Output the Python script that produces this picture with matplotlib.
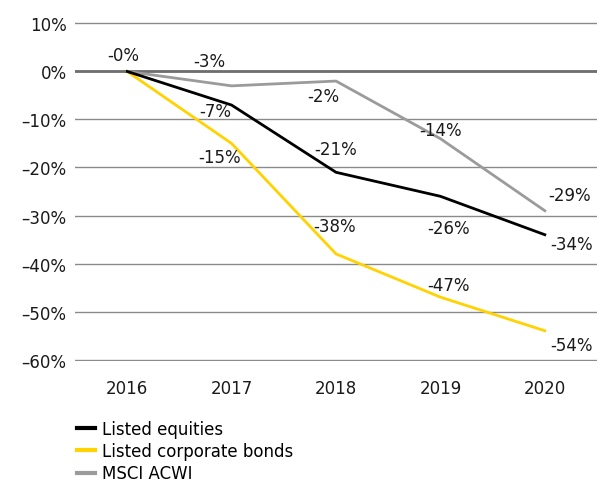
import matplotlib
matplotlib.use("Agg")
import matplotlib.pyplot as plt
from matplotlib.lines import Line2D

years = ["2016", "2017", "2018", "2019", "2020"]
equities = [0, -7, -21, -26, -34]
bonds = [0, -15, -38, -47, -54]
msci = [0, -3, -2, -14, -29]
y_ticks = [10, 0, -10, -20, -30, -40, -50, -60]

plt.rcParams["font.family"] = ["DejaVu Sans"]

fig = plt.figure(figsize=(5.97, 4.85), dpi=100)
ax = fig.add_axes([75 / 597, 1 - 362 / 485, 522 / 597, 339 / 485])

x = list(range(len(years)))
ax.plot(x, msci, color="#9b9b9b", lw=2, zorder=3)
ax.plot(x, equities, color="#000000", lw=2, zorder=4)
ax.plot(x, bonds, color="#ffd200", lw=2, zorder=3)

# label offsets (points) per series / point
off_eq = [None, (-12, -4), (0, 17), (6, -23), (19.5, -6.5)]
off_bd = [None, (-9, -9.5), (-1, 20), (6, 8.5), (19.5, -10)]
off_ms = [(-3, 11.5), (-16, 18), (-9, -11), (0, 6.5), (18, 11)]

for vals, offs in [(equities, off_eq), (bonds, off_bd), (msci, off_ms)]:
    for i, v in enumerate(vals):
        if offs[i] is None:
            continue
        ax.annotate(f"-{abs(v)}%", (i, v), xytext=offs[i], textcoords="offset points",
                    ha="center", va="center", fontsize=12, color="#1a1a1a", zorder=5)

ax.set_xlim(-0.5, len(years) - 0.5)
ax.set_ylim(-60.3, 10.3)
ax.set_yticks(y_ticks)
ax.set_yticklabels([f"{t}%".replace("-", "\u2013") for t in y_ticks], fontsize=12, color="#1a1a1a")
ax.set_xticks(x)
ax.set_xticklabels(years, fontsize=12, color="#1a1a1a")
ax.tick_params(length=0)
ax.tick_params(axis="y", pad=6)
ax.tick_params(axis="x", pad=13)
ax.grid(axis="y", color="#8a8a8a", lw=1)
ax.axhline(0, color="#6e6e6e", lw=2, zorder=2)
ax.set_axisbelow(True)
for s in ax.spines.values():
    s.set_visible(False)

handles = [Line2D([], [], color="#000000", lw=3),
           Line2D([], [], color="#ffd200", lw=3),
           Line2D([], [], color="#9b9b9b", lw=3)]
fig.legend(handles, ["Listed equities", "Listed corporate bonds", "MSCI ACWI"],
           loc="upper left", bbox_to_anchor=(77 / 597, 1 - 421 / 485), frameon=False,
           fontsize=12, handlelength=1.1, handletextpad=0.4, labelspacing=0.25,
           borderpad=0, borderaxespad=0)

fig.savefig("out.png", dpi=100)
